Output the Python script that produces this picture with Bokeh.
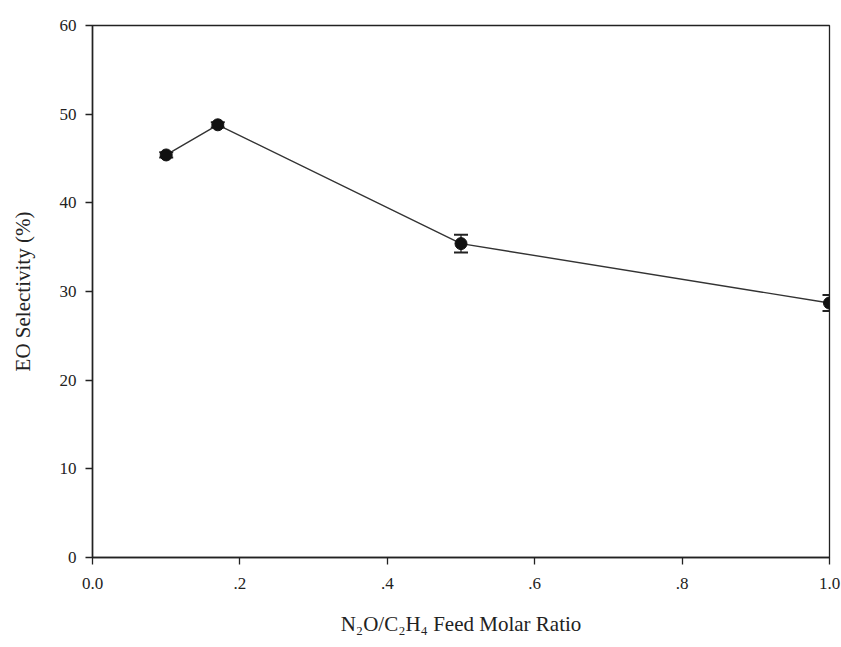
from bokeh.plotting import figure
from bokeh.models import ColumnDataSource, Range1d, FixedTicker, Whisker, TeeHead
from bokeh.embed import file_html
from bokeh.resources import INLINE

ratio = [0.10, 0.17, 0.50, 1.00]
selectivity = [45.4, 48.8, 35.4, 28.7]
err = [0.3, 0.3, 1.0, 0.9]
x_ticks = [0.0, 0.2, 0.4, 0.6, 0.8, 1.0]
x_tick_labels = ["0.0", ".2", ".4", ".6", ".8", "1.0"]
y_ticks = [0, 10, 20, 30, 40, 50, 60]

src = ColumnDataSource(dict(
    x=ratio, y=selectivity,
    lo=[s - e for s, e in zip(selectivity, err)],
    hi=[s + e for s, e in zip(selectivity, err)],
))

FONT = "Liberation Serif"
p = figure(width=841, height=647, output_backend="svg", toolbar_location=None,
           x_range=Range1d(0, 1.0), y_range=Range1d(0, 60),
           min_border_left=92, min_border_right=12, min_border_top=25, min_border_bottom=90)
p.grid.visible = False
p.outline_line_color = "#222222"
p.outline_line_width = 1.3
p.background_fill_color = "white"
p.border_fill_color = "white"

p.xaxis.ticker = FixedTicker(ticks=x_ticks)
p.xaxis.major_label_overrides = {t: l for t, l in zip(x_ticks, x_tick_labels)}
p.yaxis.ticker = FixedTicker(ticks=y_ticks)
for ax in (p.xaxis, p.yaxis):
    ax.axis_line_color = "#222222"
    ax.axis_line_width = 1.5
    ax.major_tick_line_color = "#222222"
    ax.major_tick_line_width = 1.3
    ax.major_tick_out = 7
    ax.major_tick_in = 0
    ax.minor_tick_line_color = None
    ax.major_label_text_font = FONT
    ax.major_label_text_font_size = "17px"
    ax.major_label_text_color = "#222222"
    ax.axis_label_text_font = FONT
    ax.axis_label_text_font_size = "21px"
    ax.axis_label_text_font_style = "normal"
    ax.axis_label_text_color = "#222222"
p.xaxis.major_label_standoff = 13
p.xaxis.axis_label_standoff = 20
p.yaxis.major_label_standoff = 9
p.yaxis.axis_label_standoff = 22
p.xaxis.axis_label = "N\u2082O/C\u2082H\u2084 Feed Molar Ratio"
p.yaxis.axis_label = "EO Selectivity (%)"

p.line("x", "y", source=src, line_color="#333333", line_width=1.4)
w = Whisker(source=src, base="x", lower="lo", upper="hi",
            line_color="#222222", line_width=1.3,
            upper_head=TeeHead(size=14, line_color="#222222", line_width=2),
            lower_head=TeeHead(size=14, line_color="#222222", line_width=2))
p.add_layout(w)
p.scatter("x", "y", source=src, size=12, fill_color="#111111", line_color="#111111")

open("out.html", "w").write(file_html(p, INLINE))
